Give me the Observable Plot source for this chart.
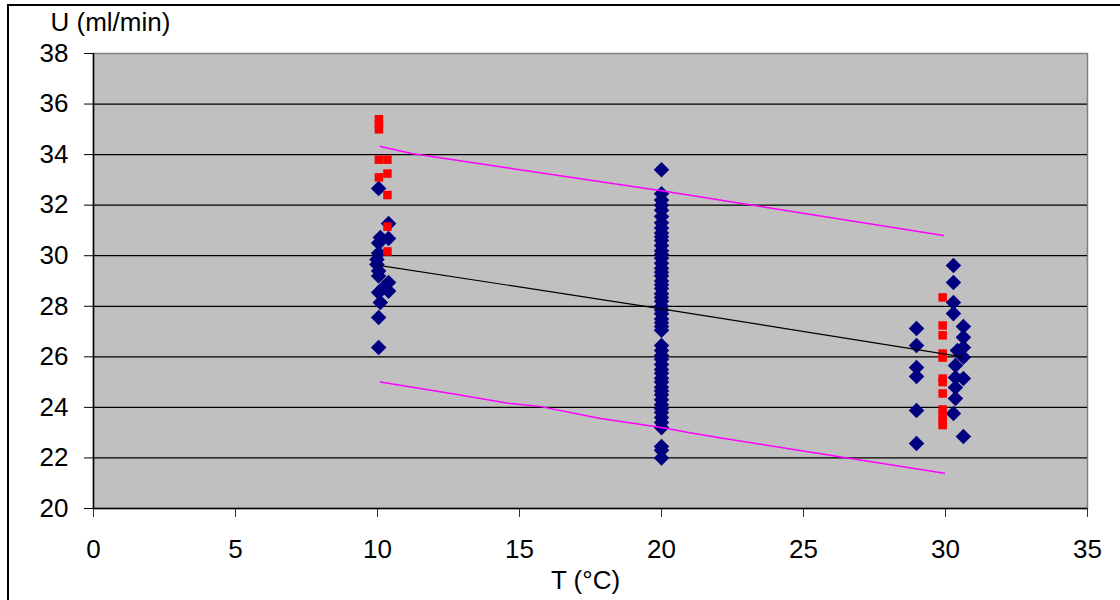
<!DOCTYPE html>
<html>
<head>
<meta charset="utf-8">
<script src="https://cdn.jsdelivr.net/npm/d3@7"></script>
<script src="https://cdn.jsdelivr.net/npm/@observablehq/plot@0.6"></script>
<style>
  html, body { margin: 0; padding: 0; background: white; }
  #wrap { position: relative; width: 1120px; height: 600px; overflow: hidden; }
  #border { position: absolute; left: 7px; top: 4px; width: 1200px; height: 700px;
            border-left: 2px solid black; border-top: 2px solid black; pointer-events: none; }
</style>
</head>
<body>
<div id="wrap"><div id="border"></div></div>
<script>
// ---- data ----
const xTicks = [0, 5, 10, 15, 20, 25, 30, 35];
const yTicks = [20, 22, 24, 26, 28, 30, 32, 34, 36, 38];
const gridLines = [22, 24, 26, 28, 30, 32, 34, 36];

// blue diamonds
const blueT = [
  10.04, 10.39, 10.10, 10.39, 10.04, 10.04, 9.98, 9.98, 10.04, 10.04, 10.39, 10.22, 10.39, 10.04, 10.10, 10.04, 10.04,
  20, 20, 20, 20, 20, 20, 20, 20, 20, 20, 20, 20, 20, 20, 20, 20, 20, 20, 20, 20, 20, 20, 20, 20, 20, 20, 20, 20, 20, 20, 20, 20,
  20, 20, 20, 20, 20, 20, 20, 20, 20, 20, 20, 20, 20, 20, 20, 20, 20, 20, 20, 20, 20, 20,
  28.98, 28.98, 28.98, 28.98, 28.98, 28.98,
  30.28, 30.28, 30.28, 30.28, 30.42, 30.35, 30.35, 30.35, 30.35, 30.28,
  30.63, 30.63, 30.63, 30.63, 30.63, 30.63
];
const blueU = [
  32.66, 31.27, 30.72, 30.68, 30.50, 30.10, 29.85, 29.65, 29.40, 29.20, 28.94, 28.74, 28.60, 28.55, 28.15, 27.56, 26.37,
  33.40, 32.45, 32.20, 32.00, 31.80, 31.55, 31.30, 31.10, 30.90, 30.75, 30.60, 30.40, 30.20, 30.05, 29.90, 29.70, 29.50, 29.35, 29.20, 29.00, 28.85, 28.70, 28.50, 28.35, 28.20, 28.00, 27.85, 27.70, 27.50, 27.35, 27.20, 27.05,
  26.45, 26.25, 26.05, 25.90, 25.70, 25.50, 25.35, 25.15, 25.00, 24.80, 24.65, 24.50, 24.30, 24.10, 23.95, 23.80, 23.60, 23.40, 23.20, 22.45, 22.30, 22.00,
  27.12, 26.45, 25.58, 25.22, 23.88, 22.57,
  29.61, 28.94, 28.15, 27.71, 26.25, 25.66, 25.18, 24.79, 24.35, 23.76,
  27.20, 26.77, 26.37, 25.98, 25.14, 22.85
];

// red squares
const redT = [
  10.05, 10.05, 10.05, 10.05, 10.35, 10.35, 10.05, 10.35, 10.35, 10.35,
  29.9, 29.9, 29.9, 29.9, 29.9, 29.9, 29.9, 29.9, 29.9, 29.9, 29.9, 29.9
];
const redU = [
  35.40, 35.20, 35.00, 33.80, 33.80, 33.25, 33.10, 32.40, 31.15, 30.17,
  28.35, 27.24, 26.85, 26.13, 25.97, 25.14, 25.00, 24.55, 23.92, 23.68, 23.44, 23.30
];

// fitted line
const fitT = [10.1, 20, 30.6];
const fitU = [29.61, 27.90, 26.00];

// upper band
const upperT = [10.1, 11.2, 20, 29.93];
const upperU = [34.32, 34.04, 32.57, 30.80];

// lower band
const lowerT = [10.1, 12.8, 14.6, 15.7, 17.85, 20.0, 21.0, 22.2, 29.96];
const lowerU = [25.00, 24.51, 24.16, 24.04, 23.56, 23.20, 23.00, 22.77, 21.39];

// ---- build tables ----
const blue = blueT.map((t, i) => ({t, u: blueU[i]}));
const red = redT.map((t, i) => ({t, u: redU[i]}));
const fit = fitT.map((t, i) => ({t, u: fitU[i]}));
const upper = upperT.map((t, i) => ({t, u: upperU[i]}));
const lower = lowerT.map((t, i) => ({t, u: lowerU[i]}));

const chart = Plot.plot({
  width: 1120,
  height: 600,
  marginLeft: 93,
  marginRight: 33,
  marginTop: 53,
  marginBottom: 92,
  style: {fontFamily: "'Liberation Sans', Arial, sans-serif", fontSize: "26px", background: "transparent", color: "black"},
  x: {domain: [0, 35], label: null},
  y: {domain: [20, 38], label: null},
  marks: [
    Plot.frame({fill: "#C0C0C0", stroke: "#808080", strokeWidth: 1.5}),
    Plot.ruleY(gridLines, {stroke: "black", strokeWidth: 1.2}),
    Plot.axisY(yTicks, {tickSize: 9, tickPadding: 16, label: null, stroke: "black", strokeWidth: 1}),
    Plot.axisX(xTicks, {tickSize: 9, tickPadding: 22, label: null, stroke: "#333", strokeWidth: 1}),
    Plot.ruleX([0], {stroke: "black", strokeWidth: 1.5}),
    Plot.ruleY([20], {stroke: "black", strokeWidth: 1.5}),
    Plot.dot(blue, {x: "t", y: "u", symbol: "diamond2", r: 7, fill: "#000080", stroke: "none"}),
    Plot.dot(red, {x: "t", y: "u", symbol: "square", r: 4.8, fill: "#FF0000", stroke: "none"}),
    Plot.line(fit, {x: "t", y: "u", stroke: "black", strokeWidth: 1.2}),
    Plot.line(upper, {x: "t", y: "u", stroke: "#FF00FF", strokeWidth: 1.5}),
    Plot.line(lower, {x: "t", y: "u", stroke: "#FF00FF", strokeWidth: 1.5}),
    Plot.text(["U (ml/min)"], {frameAnchor: "top-left", dx: -43, dy: -31, textAnchor: "start", lineAnchor: "middle", fontSize: 26}),
    Plot.text(["T (°C)"], {frameAnchor: "bottom", dx: -5, dy: 72, lineAnchor: "middle", fontSize: 26})
  ]
});
document.getElementById("wrap").prepend(chart);
</script>
</body>
</html>
